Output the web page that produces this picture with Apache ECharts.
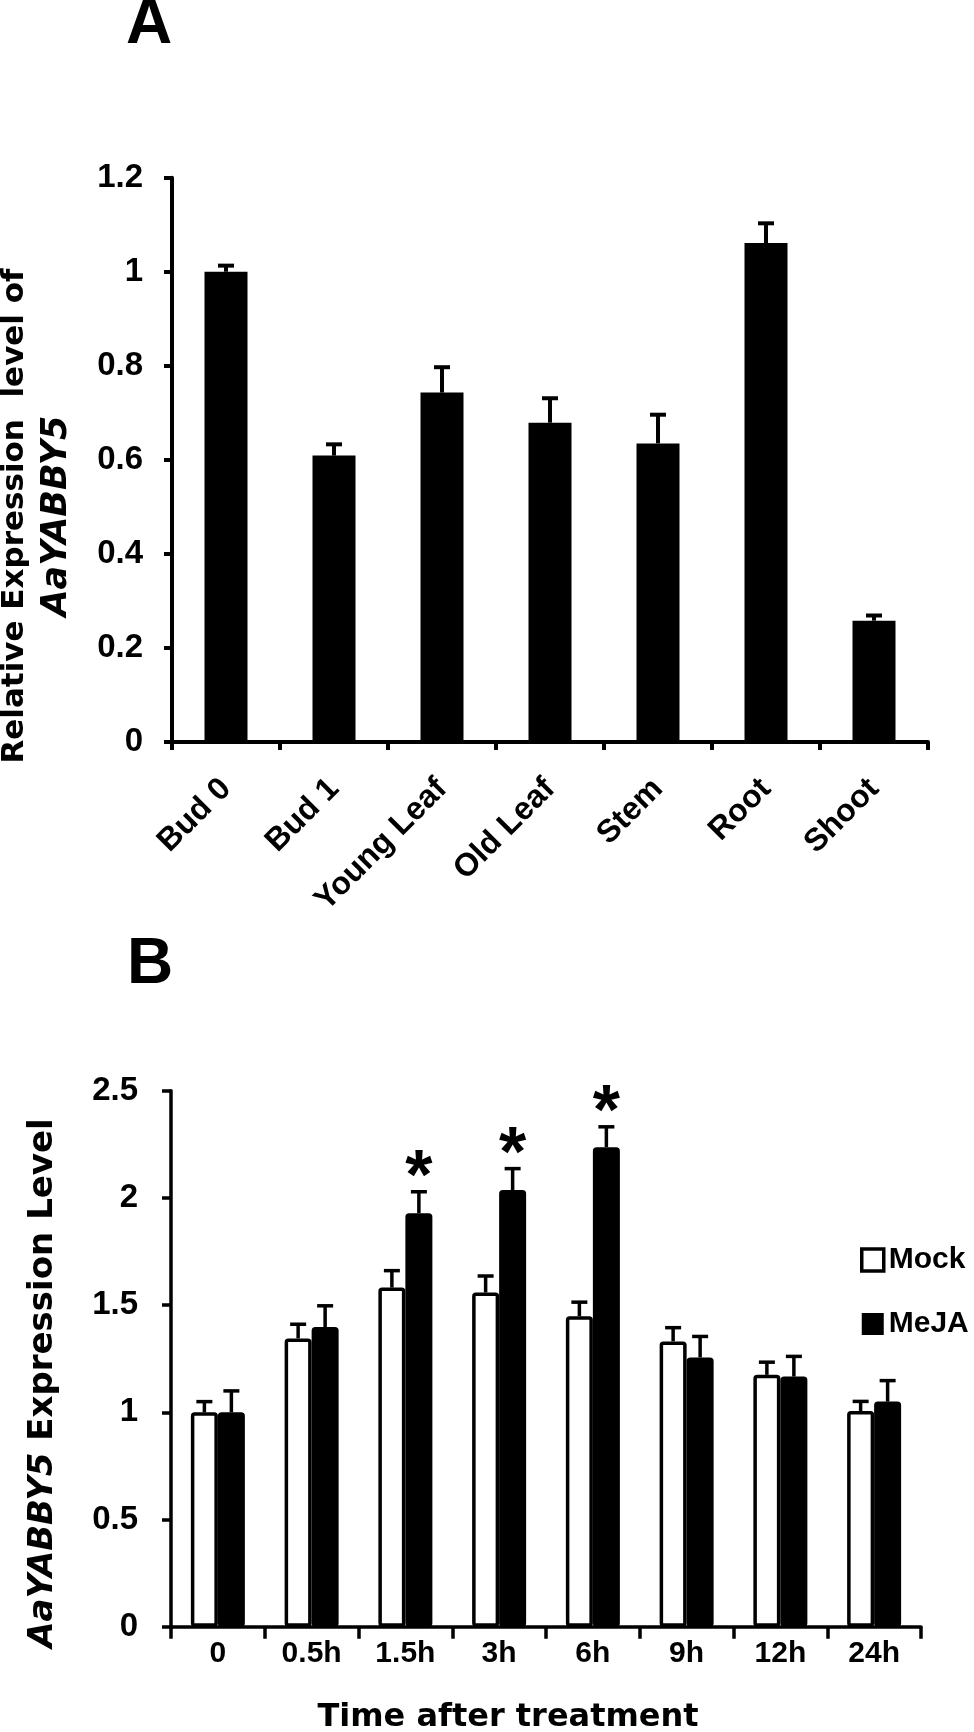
<!DOCTYPE html>
<html><head><meta charset="utf-8">
<script src="https://cdn.jsdelivr.net/npm/echarts@6/dist/echarts.min.js"></script>
<style>html,body{margin:0;padding:0;background:#fff}#c{width:974px;height:1732px}</style>
</head><body><div id="c"></div>
<script>
// ---- Panel A data ----
const tissues = ['Bud 0', 'Bud 1', 'Young Leaf', 'Old Leaf', 'Stem', 'Root', 'Shoot'];
const tissueValues = [1.00, 0.609, 0.743, 0.679, 0.635, 1.061, 0.258];
const tissueErrors = [0.013, 0.024, 0.054, 0.052, 0.061, 0.042, 0.011];

// ---- Panel B data ----
const times = ['0', '0.5h', '1.5h', '3h', '6h', '9h', '12h', '24h'];
const mockValues = [1.00, 1.345, 1.582, 1.559, 1.448, 1.331, 1.175, 1.006];
const mockErrors = [0.050, 0.066, 0.079, 0.077, 0.066, 0.064, 0.059, 0.045];
const mejaValues = [1.00, 1.398, 1.929, 2.037, 2.237, 1.256, 1.167, 1.050];
const mejaErrors = [0.100, 0.099, 0.100, 0.100, 0.095, 0.098, 0.094, 0.098];
const mejaSignificant = [false, false, true, true, true, false, false, false];

const LS = 'Liberation Sans, Arial, sans-serif';
const DJ = 'DejaVu Sans, sans-serif';

function errorRenderer(offset, lw, capHalf) {
  return function (params, api) {
    const x = api.value(0), v = api.value(1), e = api.value(2);
    const b = api.coord([x, v]);
    const t = api.coord([x, v + e]);
    const cx = b[0] + offset;
    return {
      type: 'group',
      children: [
        { type: 'line', shape: { x1: cx, y1: b[1], x2: cx, y2: t[1] }, style: { stroke: '#000', lineWidth: lw } },
        { type: 'line', shape: { x1: cx - capHalf, y1: t[1], x2: cx + capHalf, y2: t[1] }, style: { stroke: '#000', lineWidth: lw } }
      ]
    };
  };
}

const chart = echarts.init(document.getElementById('c'), null, { renderer: 'canvas' });

const option = {
  backgroundColor: '#fff',
  animation: false,
  grid: [
    { left: 172, top: 177.7, width: 756, height: 564.3 },
    { left: 171, top: 1090.8, width: 750, height: 535.9 }
  ],
  xAxis: [
    {
      type: 'category', gridIndex: 0, data: tissues,
      axisLine: { show: true, lineStyle: { color: '#000', width: 4 } },
      axisTick: { show: true, length: 8, lineStyle: { color: '#000', width: 4 } },
      axisLabel: { rotate: 45, margin: 42, color: '#000', fontFamily: LS, fontWeight: 'bold', fontSize: 32, interval: 0 }
    },
    {
      type: 'category', gridIndex: 1, data: times,
      axisLine: { show: true, lineStyle: { color: '#000', width: 3.5 } },
      axisTick: { show: true, length: 12, lineStyle: { color: '#000', width: 3.5 } },
      axisLabel: { margin: 12, color: '#000', fontFamily: LS, fontWeight: 'bold', fontSize: 30, interval: 0 }
    }
  ],
  yAxis: [
    {
      type: 'value', gridIndex: 0, min: 0, max: 1.2, interval: 0.2,
      splitLine: { show: false },
      axisLine: { show: true, lineStyle: { color: '#000', width: 4 } },
      axisTick: { show: true, length: 8, lineStyle: { color: '#000', width: 4 } },
      axisLabel: { margin: 29, color: '#000', fontFamily: LS, fontWeight: 'bold', fontSize: 33 }
    },
    {
      type: 'value', gridIndex: 1, min: 0, max: 2.5, interval: 0.5,
      splitLine: { show: false },
      axisLine: { show: true, lineStyle: { color: '#000', width: 3.5 } },
      axisTick: { show: true, length: 9, lineStyle: { color: '#000', width: 3.5 } },
      axisLabel: { margin: 33, color: '#000', fontFamily: LS, fontWeight: 'bold', fontSize: 33 }
    }
  ],
  legend: {
    orient: 'vertical', left: 860, top: 1245, itemWidth: 22, itemHeight: 22, itemGap: 34,
    padding: 0, icon: 'rect',
    textStyle: { color: '#000', fontFamily: LS, fontWeight: 'bold', fontSize: 30 },
    data: [
      { name: 'Mock', itemStyle: { color: '#fff', borderColor: '#000', borderWidth: 3.5 } },
      { name: 'MeJA', itemStyle: { color: '#000', borderColor: '#000', borderWidth: 0 } }
    ]
  },
  series: [
    {
      name: 'Tissue', type: 'bar', xAxisIndex: 0, yAxisIndex: 0, data: tissueValues,
      barWidth: 43, itemStyle: { color: '#000' }
    },
    {
      name: 'TissueErr', type: 'custom', xAxisIndex: 0, yAxisIndex: 0,
      data: tissues.map((_, i) => [i, tissueValues[i], tissueErrors[i]]),
      encode: { x: 0, y: 1 }, renderItem: errorRenderer(0, 4, 8), z: 5
    },
    {
      name: 'Mock', type: 'bar', xAxisIndex: 1, yAxisIndex: 1, data: mockValues,
      barWidth: 27, barGap: '0%',
      itemStyle: { color: '#fff', borderColor: '#000', borderWidth: 3.5, borderRadius: 2 }
    },
    {
      name: 'MeJA', type: 'bar', xAxisIndex: 1, yAxisIndex: 1, data: mejaValues,
      barWidth: 27, barGap: '0%',
      itemStyle: { color: '#000', borderColor: '#000', borderWidth: 3.5, borderRadius: 2 }
    },
    {
      name: 'MockErr', type: 'custom', xAxisIndex: 1, yAxisIndex: 1,
      data: times.map((_, i) => [i, mockValues[i], mockErrors[i]]),
      encode: { x: 0, y: 1 }, renderItem: errorRenderer(-13.5, 3.5, 8), z: 5
    },
    {
      name: 'MeJAErr', type: 'custom', xAxisIndex: 1, yAxisIndex: 1,
      data: times.map((_, i) => [i, mejaValues[i], mejaErrors[i]]),
      encode: { x: 0, y: 1 }, renderItem: errorRenderer(13.5, 3.5, 8), z: 5
    },
    {
      name: 'Stars', type: 'custom', xAxisIndex: 1, yAxisIndex: 1,
      data: times.map((_, i) => [i, mejaValues[i] + mejaErrors[i], mejaSignificant[i] ? 1 : 0]),
      encode: { x: 0, y: 1 }, z: 6,
      renderItem: function (params, api) {
        if (!api.value(2)) return null;
        const p = api.coord([api.value(0), api.value(1)]);
        return {
          type: 'text', x: p[0] + 13.5, y: p[1] - 12,
          style: { text: '*', fill: '#000', font: 'bold 70px ' + LS, textAlign: 'center', textVerticalAlign: 'middle', align: 'center', verticalAlign: 'middle' }
        };
      }
    }
  ],
  graphic: [
    { type: 'text', x: 149, y: 25, style: { text: 'A', fill: '#000', font: 'bold 64px ' + LS, textAlign: 'center', textVerticalAlign: 'middle', align: 'center', verticalAlign: 'middle' } },
    { type: 'text', x: 150, y: 965, style: { text: 'B', fill: '#000', font: 'bold 64px ' + LS, textAlign: 'center', textVerticalAlign: 'middle', align: 'center', verticalAlign: 'middle' } },
    { type: 'text', x: 15, y: 516, rotation: Math.PI / 2,
      style: { text: 'Relative Expression  level of', fill: '#000', font: 'bold 31px ' + DJ, textAlign: 'center', textVerticalAlign: 'middle', align: 'center', verticalAlign: 'middle' } },
    { type: 'text', x: 57, y: 516, rotation: Math.PI / 2,
      style: { text: 'AaYABBY5', fill: '#000', font: 'italic bold 35px ' + DJ, textAlign: 'center', textVerticalAlign: 'middle', align: 'center', verticalAlign: 'middle' } },
    { type: 'text', x: 43, y: 1383, rotation: Math.PI / 2,
      style: {
        text: '{i|AaYABBY5} Expression Level', fill: '#000', font: 'bold 34px ' + DJ,
        textAlign: 'center', textVerticalAlign: 'middle', align: 'center', verticalAlign: 'middle',
        rich: { i: { fontStyle: 'italic', fontWeight: 'bold', fontSize: 34, fontFamily: DJ, fill: '#000', color: '#000' } }
      } },
    { type: 'text', x: 508, y: 1718,
      style: { text: 'Time after treatment', fill: '#000', font: 'bold 32px ' + DJ, textAlign: 'center', textVerticalAlign: 'middle', align: 'center', verticalAlign: 'middle' } }
  ]
};
chart.setOption(option);
</script>
</body></html>
